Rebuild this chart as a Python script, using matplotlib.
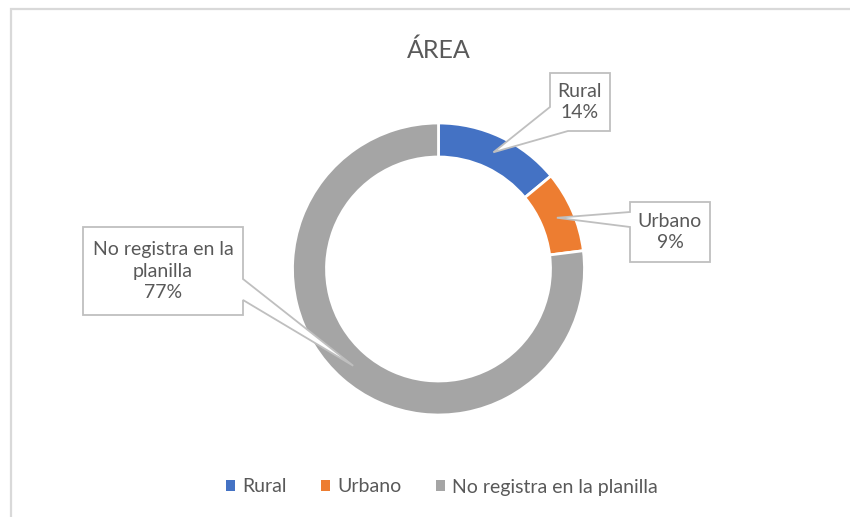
import numpy as np
import matplotlib.pyplot as plt
from matplotlib.patches import Polygon

# data
categories = ["Rural", "Urbano", "No registra en la planilla"]
label_text = ["Rural", "Urbano", "No registra en la\nplanilla"]
percent = [14, 9, 77]
colors = ["#4472C4", "#ED7D31", "#A5A5A5"]

W, H = 850, 517
TXT = "#595959"
plt.rcParams['font.family'] = ['Lato', 'DejaVu Sans']


def Y(y):
    # layout numbers are read top-down, axes is bottom-up
    return H - y


fig = plt.figure(figsize=(W / 100, H / 100), dpi=100)
ax = fig.add_axes([0, 0, 1, 1])
ax.set_xlim(0, W)
ax.set_ylim(0, H)
ax.axis("off")

cx, cy, R, ring = 438.5, Y(269), 146, 34
wedges, _ = ax.pie(percent, radius=R, center=(cx, cy), startangle=90,
                   counterclock=False, colors=colors,
                   wedgeprops=dict(width=ring, edgecolor="white", linewidth=2))
ax.set_xlim(0, W)
ax.set_ylim(0, H)

# chart frame (only top and left visible in the source)
ax.plot([11, 11, W], [0, Y(9), Y(9)], color="#d9d9d9", lw=1.6,
        solid_joinstyle="miter")

ax.text(cx, Y(50), "ÁREA", ha="center", va="center", fontsize=18,
        color=TXT)

# callouts: box (x0, y0, x1, y1) top-down, side with the pointer, base points
boxes = [(550, 73, 610, 131), (630, 202, 710, 262), (83, 227, 243, 315)]


def tip_point(i):
    tot = sum(percent)
    before = sum(percent[:i])
    ang = np.deg2rad(90 - 360 * (before + percent[i] / 2) / tot)
    r = R - ring / 2
    return cx + r * np.cos(ang), cy + r * np.sin(ang)


for i, (x0, y0, x1, y1) in enumerate(boxes):
    tx, ty = tip_point(i)
    if i == 0:
        pts = [(x0, Y(y0)), (x1, Y(y0)), (x1, Y(y1)), (568, Y(y1)),
               (tx, ty), (x0, Y(107))]
    elif i == 1:
        pts = [(x0, Y(y0)), (x1, Y(y0)), (x1, Y(y1)), (x0, Y(y1)),
               (x0, Y(227)), (tx, ty), (x0, Y(212))]
    else:
        pts = [(x0, Y(y0)), (x1, Y(y0)), (x1, Y(279)), (tx, ty),
               (x1, Y(300)), (x1, Y(y1)), (x0, Y(y1))]
    ax.add_patch(Polygon(pts, closed=True, fc="white", ec="#bfbfbf",
                         lw=1.3, zorder=3))
    ax.text((x0 + x1) / 2, Y((y0 + y1) / 2),
            f"{label_text[i]}\n{percent[i]}%", ha="center", va="center",
            fontsize=14, color=TXT, linespacing=1.3, zorder=4)

leg = ax.legend(wedges, categories, loc="center", ncol=3,
                bbox_to_anchor=(442 / W, 1 - 487 / H), frameon=False,
                fontsize=14, handlelength=0.45, handleheight=0.45,
                handletextpad=0.35, columnspacing=1.8, labelcolor=TXT)
for h in leg.legend_handles:
    h.set_edgecolor("none")

fig.savefig("out.png", dpi=100)
